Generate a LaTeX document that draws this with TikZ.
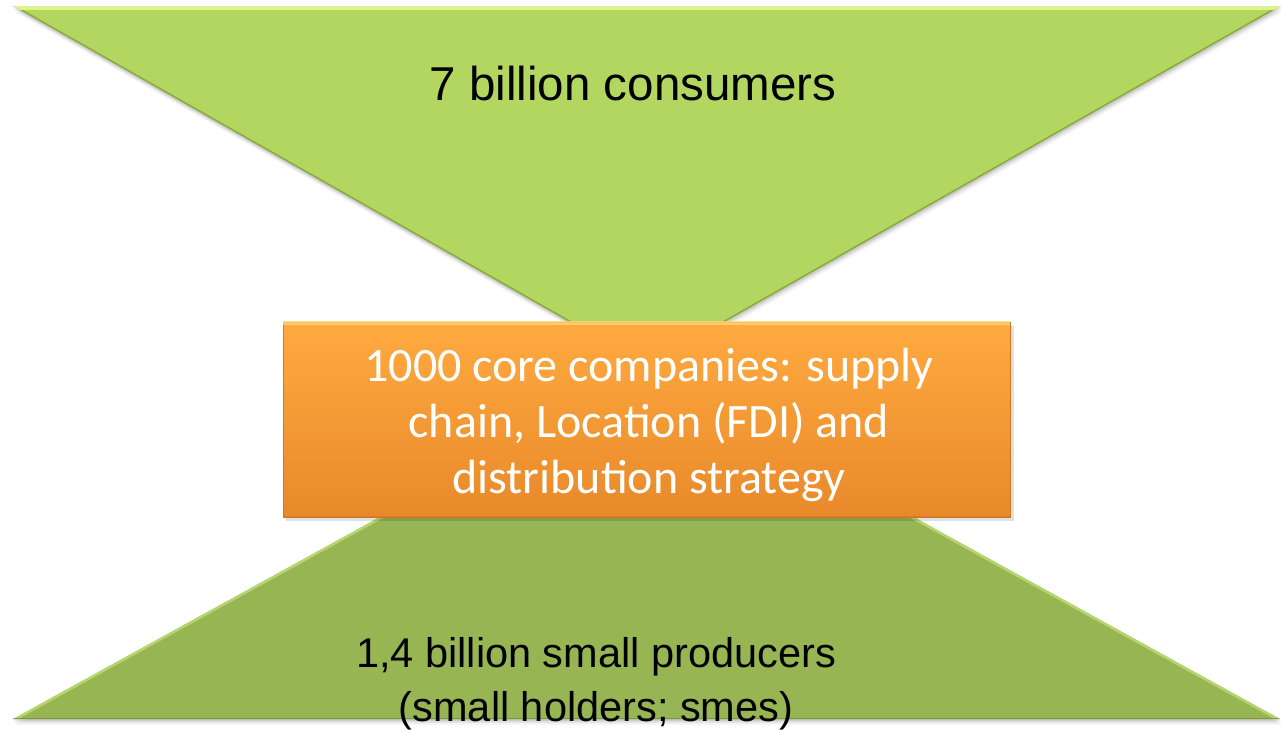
\documentclass[tikz,border=0pt]{standalone}
\usepackage{fontspec}
\setmainfont{Liberation Sans}
\newfontfamily\corefont{Carlito}
\usetikzlibrary{calc}

\definecolor{topgreen}{RGB}{179,214,96}
\definecolor{topgreenlight}{RGB}{228,247,150}
\definecolor{topgreendark}{RGB}{128,160,58}
\definecolor{botgreen}{RGB}{151,181,82}
\definecolor{botgreenlight}{RGB}{190,222,118}
\definecolor{botgreendark}{RGB}{110,138,55}
\definecolor{coretop}{RGB}{255,170,64}
\definecolor{corebot}{RGB}{232,137,42}
\definecolor{coreedge}{RGB}{205,120,38}
\definecolor{corelight}{RGB}{255,214,120}

\tikzset{
  corebox/.style={rectangle, draw=coreedge, line width=0.8pt,
    top color=coretop, bottom color=corebot,
    minimum width=727pt, minimum height=195pt, inner sep=0pt},
  corelabel/.style={text=white, align=center,
    font=\corefont\fontsize{48}{56}\selectfont},
  toplabel/.style={text=black, font=\fontsize{47.5}{56}\selectfont},
  botlabel/.style={text=black, align=center,
    font=\fontsize{41.5}{54}\selectfont},
}

\begin{document}
\begin{tikzpicture}[x=1pt,y=-1pt]
\useasboundingbox[fill=white] (0,0) rectangle (1281,729);

% corner points of the two triangles
\coordinate (tl) at (13,6);
\coordinate (tr) at (1281,6);
\coordinate (ta) at (647,366);
\coordinate (bl) at (13,719);
\coordinate (br) at (1280,719);
\coordinate (ba) at (647,370);

% soft drop shadows
\foreach \d/\o in {2/0.10,4/0.07,6/0.04}{
  \fill[black, opacity=\o] ($(tl)+(\d*0.3,\d)$) -- ($(tr)+(\d*0.3,\d)$) -- ($(ta)+(\d*0.3,\d)$) -- cycle;
  \fill[black, opacity=\o] ($(bl)+(\d*0.3,\d)$) -- ($(br)+(\d*0.3,\d)$) -- ($(ba)+(\d*0.3,\d)$) -- cycle;
}

% upper triangle with bevelled edges
\fill[topgreen] (tl) -- (tr) -- (ta) -- cycle;
\begin{scope}
  \clip (tl) -- (tr) -- (ta) -- cycle;
  \draw[topgreendark, line width=3pt, opacity=0.8] (tl) -- (ta) -- (tr);
  \draw[topgreenlight, line width=7pt, opacity=0.9] (tl) -- (tr);
\end{scope}

% lower triangle with bevelled edges
\fill[botgreen] (bl) -- (br) -- (ba) -- cycle;
\begin{scope}
  \clip (bl) -- (br) -- (ba) -- cycle;
  \draw[botgreenlight, line width=5pt, opacity=0.8] (bl) -- (ba) -- (br);
  \draw[botgreendark, line width=3pt, opacity=0.7] (bl) -- (br);
\end{scope}

% central box
\fill[black, opacity=0.12] (286,326) rectangle (1014,521);
\node[corebox] (core) at (646.5,419.5) {};
\begin{scope}
  \clip (core.south west) rectangle (core.north east);
  \draw[corelight, line width=6pt, opacity=0.8] (core.north west) -- (core.north east);
  \draw[coreedge, line width=3pt, opacity=0.6] (core.south west) -- (core.south east);
\end{scope}
\node[corelabel, anchor=base] (coretext) at (649,493)
  {1000 core companies: supply\\chain, Location (FDI) and\\distribution strategy};

% labels of the triangles
\node[toplabel, anchor=base] (consumers) at (633,100) {7 billion consumers};
\node[botlabel, anchor=base] (producers) at (596,721)
  {1,4 billion small producers\\(small holders; smes)};
\end{tikzpicture}
\end{document}
